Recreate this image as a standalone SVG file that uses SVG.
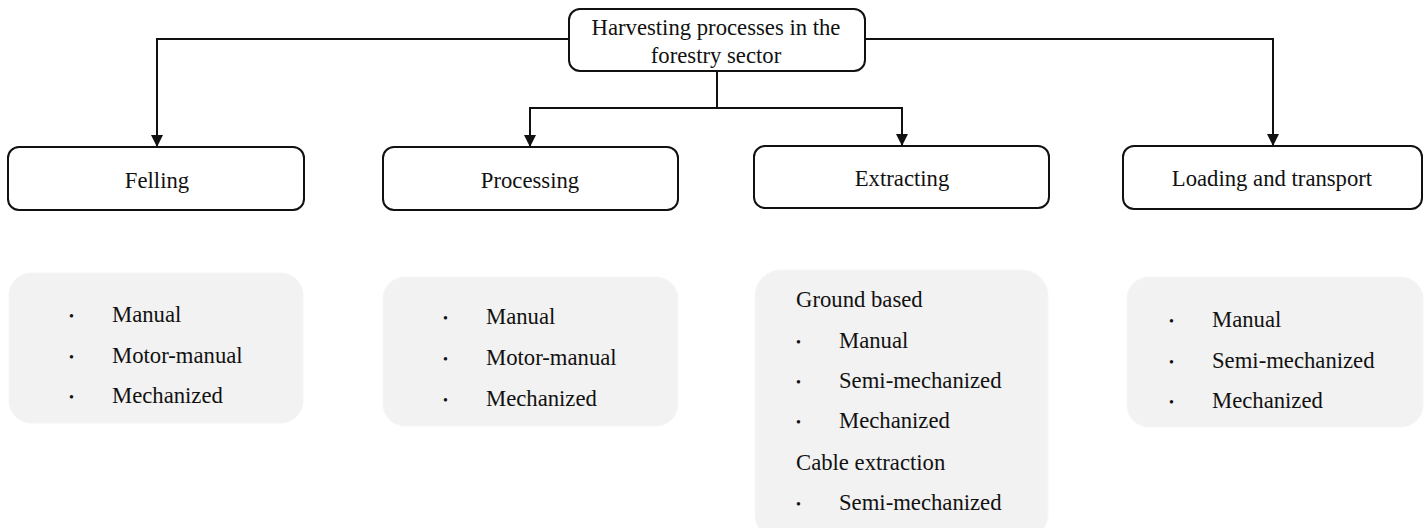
<svg xmlns="http://www.w3.org/2000/svg" width="1427" height="528" viewBox="0 0 1427 528">
<style>
.box{fill:#fff;stroke:#111;stroke-width:2}
.sub{fill:#f2f2f2;stroke:#f6f6f6;stroke-width:1}
.t{font-family:"Liberation Serif","Times New Roman",serif;font-size:22.7px;fill:#111}
.c{text-anchor:middle}
.b{font-family:"Liberation Serif","Times New Roman",serif;font-size:14px;fill:#111}
.ln{fill:none;stroke:#111;stroke-width:2}
</style>
<defs>
<marker id="arr" markerWidth="12" markerHeight="12" viewBox="0 0 12 12" refX="11" refY="6" orient="auto" markerUnits="userSpaceOnUse">
<path d="M0,0 L12,6 L0,12 Z" fill="#111"/>
</marker>
</defs>
<g id="connectors">
<path class="ln" d="M569,39 H157 V146" marker-end="url(#arr)"/>
<path class="ln" d="M865,39 H1273 V145" marker-end="url(#arr)"/>
<path class="ln" d="M717,71 V108 H530 V146" marker-end="url(#arr)"/>
<path class="ln" d="M717,108 H902 V145" marker-end="url(#arr)"/>
</g>
<g id="root">
<rect class="box" x="569" y="9" width="296" height="62" rx="11"/>
<text class="t c" x="716" y="35">Harvesting processes in the</text>
<text class="t c" x="716" y="63">forestry sector</text>
</g>
<g id="felling">
<rect class="box" x="8" y="147" width="296" height="63" rx="11"/>
<text class="t c" x="157" y="188">Felling</text>
</g>
<g id="processing">
<rect class="box" x="383" y="147" width="295" height="63" rx="11"/>
<text class="t c" x="530" y="188">Processing</text>
</g>
<g id="extracting">
<rect class="box" x="754" y="146" width="295" height="62" rx="11"/>
<text class="t c" x="902" y="186">Extracting</text>
</g>
<g id="loading">
<rect class="box" x="1123" y="146" width="299" height="63" rx="11"/>
<text class="t c" x="1272" y="186">Loading and transport</text>
</g>
<g id="felling-methods">
<rect class="sub" x="9" y="273" width="294" height="150" rx="22"/>
<text class="b" x="69" y="321">•</text><text class="t" x="112" y="322">Manual</text>
<text class="b" x="69" y="362">•</text><text class="t" x="112" y="363">Motor-manual</text>
<text class="b" x="69" y="402">•</text><text class="t" x="112" y="403">Mechanized</text>
</g>
<g id="processing-methods">
<rect class="sub" x="383" y="277" width="295" height="149" rx="22"/>
<text class="b" x="443" y="323">•</text><text class="t" x="486" y="324">Manual</text>
<text class="b" x="443" y="364">•</text><text class="t" x="486" y="365">Motor-manual</text>
<text class="b" x="443" y="405">•</text><text class="t" x="486" y="406">Mechanized</text>
</g>
<g id="extracting-methods">
<rect class="sub" x="755" y="270" width="293" height="270" rx="26"/>
<text class="t" x="796" y="307">Ground based</text>
<text class="b" x="796" y="347">•</text><text class="t" x="839" y="348">Manual</text>
<text class="b" x="796" y="387">•</text><text class="t" x="839" y="388">Semi-mechanized</text>
<text class="b" x="796" y="427">•</text><text class="t" x="839" y="428">Mechanized</text>
<text class="t" x="796" y="470">Cable extraction</text>
<text class="b" x="796" y="509">•</text><text class="t" x="839" y="510">Semi-mechanized</text>
</g>
<g id="loading-methods">
<rect class="sub" x="1127" y="277" width="296" height="150" rx="22"/>
<text class="b" x="1169" y="326">•</text><text class="t" x="1212" y="327">Manual</text>
<text class="b" x="1169" y="367">•</text><text class="t" x="1212" y="368">Semi-mechanized</text>
<text class="b" x="1169" y="407">•</text><text class="t" x="1212" y="408">Mechanized</text>
</g>
</svg>
